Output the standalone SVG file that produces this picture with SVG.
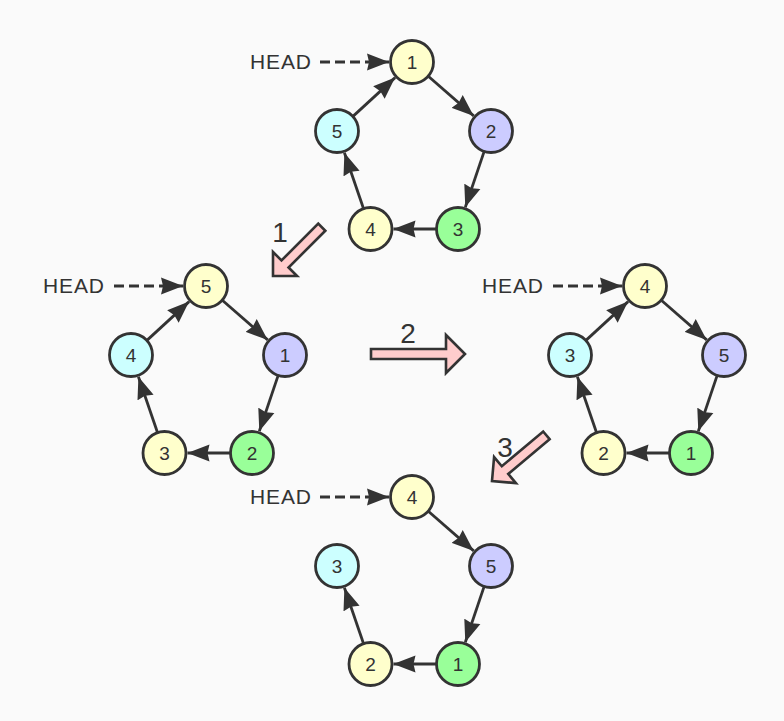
<svg xmlns="http://www.w3.org/2000/svg" width="784" height="721" viewBox="0 0 784 721">
<defs>
<style>
.n circle{stroke:#333;stroke-width:2.8}
.n text{font-family:"Liberation Sans",Arial,sans-serif;font-size:19px;fill:#333;text-anchor:middle}
.y{fill:#FFFFCC}.p{fill:#CCCCFF}.g{fill:#99FF99}.c{fill:#CCFFFF}
.e{stroke:#333;stroke-width:2.8;fill:none;marker-end:url(#ah)}
.d{stroke:#333;stroke-width:2.8;fill:none;stroke-dasharray:10 5;marker-end:url(#ah)}
.hd{font-family:"Liberation Sans",Arial,sans-serif;font-size:21px;fill:#333;text-anchor:end}
.bl{fill:#FFCCCC;stroke:#333;stroke-width:2.6;stroke-linejoin:miter}
.lb{font-family:"Liberation Sans",Arial,sans-serif;font-size:28px;fill:#333;text-anchor:middle}
</style>
<marker id="ah" markerUnits="userSpaceOnUse" viewBox="0 0 22 18" markerWidth="22" markerHeight="18" refX="22" refY="9" orient="auto">
<path d="M0,0.5 L22,9 L0,17.5 L2,9 Z" fill="#333"/>
</marker>
<g id="ring">
<path class="e" d="M16.6,14.5 L61.7,53.9"/>
<path class="e" d="M72,89.9 L53.3,145.2"/>
<path class="e" d="M24,167 L-18.5,167"/>
<path class="e" d="M-48.6,146.2 L-67.6,90.8"/>
</g>
</defs>
<rect width="784" height="721" fill="#FAFAFA"/>
<g id="connectors">
<g transform="translate(412,62)">
<use href="#ring"/>
<path class="e" d="M-58.8,54.1 L-16.9,15.6"/>
<path class="d" d="M-92,0 L-23,0"/>
</g>
<g transform="translate(206,286)">
<use href="#ring"/>
<path class="e" d="M-58.8,54.1 L-16.9,15.6"/>
<path class="d" d="M-92,0 L-23,0"/>
</g>
<g transform="translate(645,286)">
<use href="#ring"/>
<path class="e" d="M-58.8,54.1 L-16.9,15.6"/>
<path class="d" d="M-92,0 L-23,0"/>
</g>
<g transform="translate(412,497)">
<use href="#ring"/>
<path class="d" d="M-92,0 L-23,0"/>
</g>
</g>
<g id="heads">
<text class="hd" x="311" y="69" textLength="61">HEAD</text>
<text class="hd" x="104" y="293" textLength="61">HEAD</text>
<text class="hd" x="543" y="293" textLength="61">HEAD</text>
<text class="hd" x="311" y="504" textLength="61">HEAD</text>
</g>
<g id="steps">
<g id="step1">
<path class="bl" transform="translate(273,276) rotate(135)" d="M-69,-5 H-17 V-17 L0,0 L-17,17 V5 H-69 Z"/>
<text class="lb" x="280" y="242">1</text>
</g>
<g id="step2">
<path class="bl" d="M371,349 H446 V335 L465,354 L446,373 V359 H371 Z"/>
<text class="lb" x="408" y="343">2</text>
</g>
<g id="step3">
<path class="bl" transform="translate(492,481) rotate(140)" d="M-71,-5 H-17 V-17 L0,0 L-17,17 V5 H-71 Z"/>
<text class="lb" x="505" y="457">3</text>
</g>
</g>
<g id="t1" class="n"><circle class="y" cx="412" cy="62" r="21.5"/><text x="412" y="69">1</text></g>
<g id="t2" class="n"><circle class="p" cx="491" cy="131" r="21.5"/><text x="491" y="138">2</text></g>
<g id="t3" class="n"><circle class="g" cx="458" cy="229" r="21.5"/><text x="458" y="236">3</text></g>
<g id="t4" class="n"><circle class="y" cx="370.5" cy="229" r="21.5"/><text x="370.5" y="236">4</text></g>
<g id="t5" class="n"><circle class="c" cx="337" cy="131" r="21.5"/><text x="337" y="138">5</text></g>
<g id="l5" class="n"><circle class="y" cx="206" cy="286" r="21.5"/><text x="206" y="293">5</text></g>
<g id="l1" class="n"><circle class="p" cx="285" cy="355" r="21.5"/><text x="285" y="362">1</text></g>
<g id="l2" class="n"><circle class="g" cx="252" cy="453" r="21.5"/><text x="252" y="460">2</text></g>
<g id="l3" class="n"><circle class="y" cx="164.5" cy="453" r="21.5"/><text x="164.5" y="460">3</text></g>
<g id="l4" class="n"><circle class="c" cx="131" cy="355" r="21.5"/><text x="131" y="362">4</text></g>
<g id="r4" class="n"><circle class="y" cx="645" cy="286" r="21.5"/><text x="645" y="293">4</text></g>
<g id="r5" class="n"><circle class="p" cx="724" cy="355" r="21.5"/><text x="724" y="362">5</text></g>
<g id="r1" class="n"><circle class="g" cx="691" cy="453" r="21.5"/><text x="691" y="460">1</text></g>
<g id="r2" class="n"><circle class="y" cx="603.5" cy="453" r="21.5"/><text x="603.5" y="460">2</text></g>
<g id="r3" class="n"><circle class="c" cx="570" cy="355" r="21.5"/><text x="570" y="362">3</text></g>
<g id="b4" class="n"><circle class="y" cx="412" cy="497" r="21.5"/><text x="412" y="504">4</text></g>
<g id="b5" class="n"><circle class="p" cx="491" cy="566" r="21.5"/><text x="491" y="573">5</text></g>
<g id="b1" class="n"><circle class="g" cx="458" cy="664" r="21.5"/><text x="458" y="671">1</text></g>
<g id="b2" class="n"><circle class="y" cx="370.5" cy="664" r="21.5"/><text x="370.5" y="671">2</text></g>
<g id="b3" class="n"><circle class="c" cx="337" cy="566" r="21.5"/><text x="337" y="573">3</text></g>
</svg>
